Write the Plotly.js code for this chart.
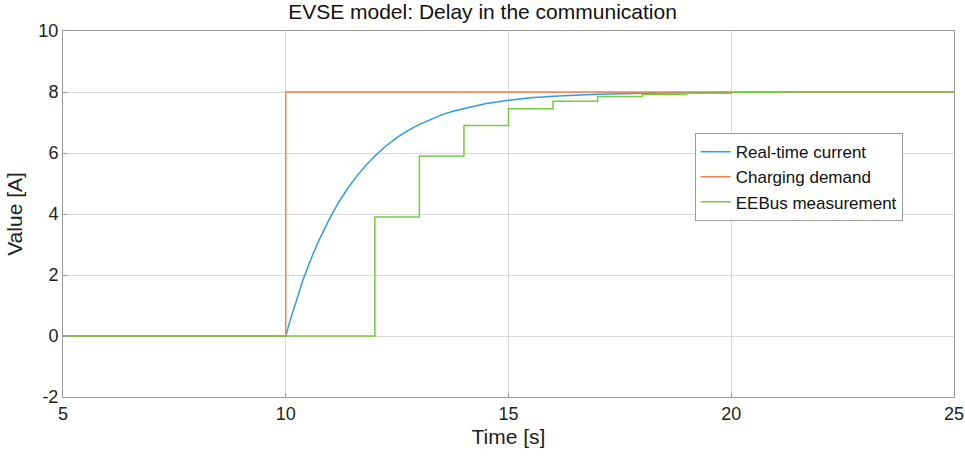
<!DOCTYPE html>
<html><head><meta charset="utf-8">
<script src="https://cdn.plot.ly/plotly-3.0.1.min.js"></script>
<style>html,body{margin:0;padding:0;background:#fff}</style>
</head><body><div id="chart" style="width:965px;height:463px"></div>
<script>
const realTimeT = [5, 10, 10.1, 10.2, 10.3, 10.4, 10.5, 10.6, 10.75, 10.9, 11, 11.2, 11.4, 11.6, 11.8, 12, 12.25, 12.5, 12.75, 13, 13.25, 13.5, 13.75, 14, 14.5, 15, 15.5, 16, 16.5, 17, 18, 19, 20, 21, 22, 25];
const realTimeV = [0, 0, 0.52, 1.00, 1.46, 1.89, 2.27, 2.65, 3.15, 3.61, 3.90, 4.41, 4.86, 5.25, 5.60, 5.90, 6.23, 6.51, 6.74, 6.94, 7.10, 7.25, 7.37, 7.46, 7.62, 7.73, 7.81, 7.86, 7.90, 7.93, 7.96, 7.98, 7.99, 8.0, 8.0, 8.0];
const demandT = [5, 10, 25];
const demandV = [0, 8, 8];
const eebusT = [5, 12, 13, 14, 15, 16, 17, 18, 19, 20, 21, 25];
const eebusV = [0, 3.9, 5.9, 6.9, 7.45, 7.7, 7.85, 7.92, 7.96, 7.99, 8.0, 8.0];
const names = ["Real-time current", "Charging demand", "EEBus measurement"];
const xTicks = [5, 10, 15, 20, 25];
const yTicks = [-2, 0, 2, 4, 6, 8, 10];
const yTickText = ["-2", "0", "2", "4", "6", "8", "10"];

const traces = [
  {x: realTimeT, y: realTimeV, name: names[0], mode: "lines", line: {color: "#2E9BE6", width: 1.5}},
  {x: demandT, y: demandV, name: names[1], mode: "lines", line: {color: "#F47F50", width: 1.5, shape: "hv"}},
  {x: eebusT, y: eebusV, name: names[2], mode: "lines", line: {color: "#77CC3C", width: 1.5, shape: "hv"}}
];
const font = "Arial, 'Liberation Sans', sans-serif";
const layout = {
  width: 965, height: 463,
  margin: {l: 63, r: 11, t: 31, b: 66},
  paper_bgcolor: "#fff", plot_bgcolor: "#fff",
  font: {family: font, color: "#222"},
  title: {text: "EVSE model: Delay in the communication", font: {size: 21, color: "#111"}, x: 0.5, xanchor: "center", y: 0.99, yanchor: "top"},
  showlegend: true,
  legend: {x: 0.709, y: 0.721, xanchor: "left", yanchor: "top", bgcolor: "#fff", bordercolor: "#999", borderwidth: 1, font: {size: 17, color: "#111"}, itemwidth: 30, tracegroupgap: 0},
  xaxis: {range: [5, 25], tickvals: xTicks, showgrid: true, gridcolor: "#d9d9d9", gridwidth: 1, zeroline: false,
    showline: true, linecolor: "#999", mirror: true, ticks: "inside", ticklen: 4, tickcolor: "#999",
    tickfont: {size: 18, color: "#222"}, title: {text: "Time [s]", font: {size: 21, color: "#222"}, standoff: 6}},
  yaxis: {range: [-2, 10], tickvals: yTicks, ticktext: yTickText, showgrid: true, gridcolor: "#d9d9d9", gridwidth: 1, zeroline: false,
    showline: true, linecolor: "#999", mirror: true, ticks: "inside", ticklen: 4, tickcolor: "#999",
    tickfont: {size: 18, color: "#222"}, title: {text: "Value [A]", font: {size: 21, color: "#222"}, standoff: 10}}
};
Plotly.newPlot("chart", traces, layout, {displayModeBar: false, staticPlot: true});
</script></body></html>
